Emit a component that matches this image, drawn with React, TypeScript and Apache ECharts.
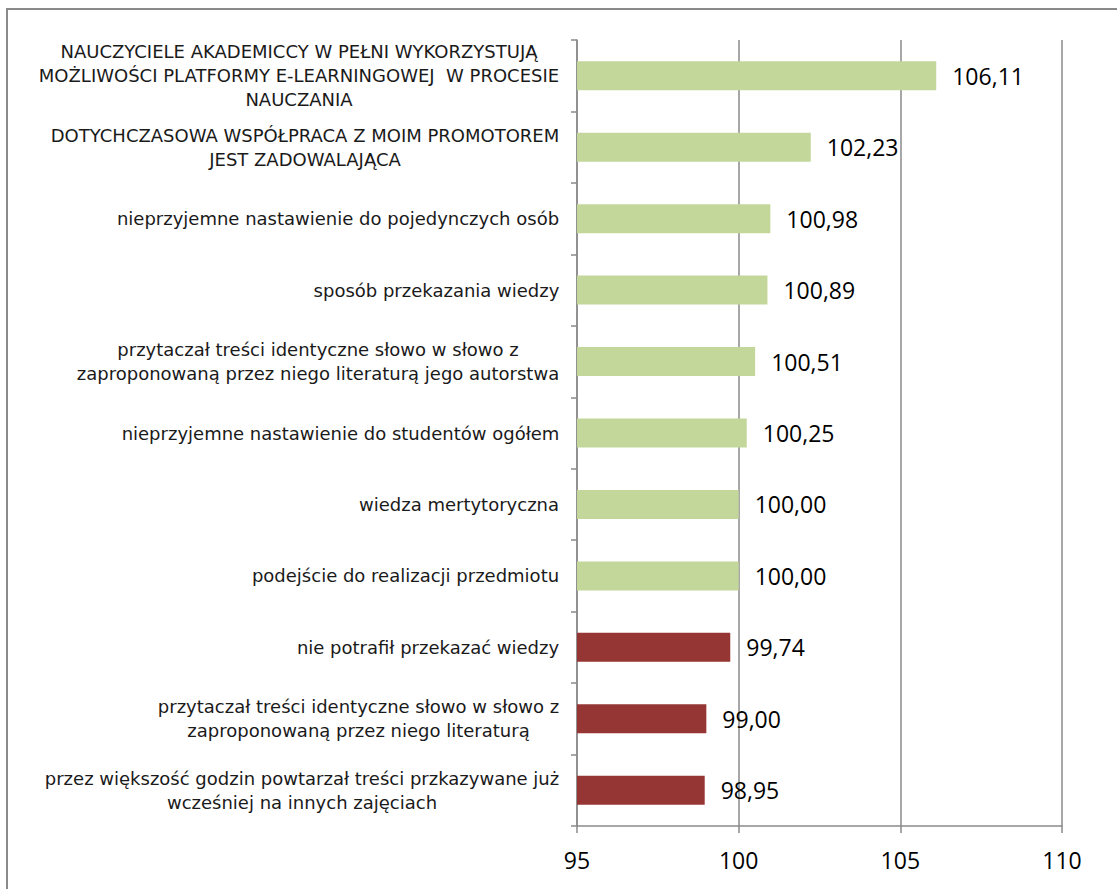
import React, { useEffect, useRef } from "react";
import * as echarts from "echarts";

const categories: string[] = [
  "NAUCZYCIELE AKADEMICCY W PEŁNI WYKORZYSTUJĄ\nMOŻLIWOŚCI PLATFORMY E-LEARNINGOWEJ  W PROCESIE\nNAUCZANIA",
  "DOTYCHCZASOWA WSPÓŁPRACA Z MOIM PROMOTOREM\nJEST ZADOWALAJĄCA",
  "nieprzyjemne nastawienie do pojedynczych osób",
  "sposób przekazania wiedzy",
  "przytaczał treści identyczne słowo w słowo z\nzaproponowaną przez niego literaturą jego autorstwa",
  "nieprzyjemne nastawienie do studentów ogółem",
  "wiedza mertytoryczna",
  "podejście do realizacji przedmiotu",
  "nie potrafił przekazać wiedzy",
  "przytaczał treści identyczne słowo w słowo z\nzaproponowaną przez niego literaturą",
  "przez większość godzin powtarzał treści przkazywane już\nwcześniej na innych zajęciach",
];

const values: number[] = [106.11, 102.23, 100.98, 100.89, 100.51, 100.25, 100.0, 100.0, 99.74, 99.0, 98.95];

const xMin = 95;
const xMax = 110;
const xInterval = 5;

const GREEN = "#C4D79B";
const RED = "#963634";
const CAT_FONT = "DejaVu Sans";
const CAT_SIZE = 18;
const NUM_FONT = "Open Sans";

export default function App() {
  const ref = useRef<HTMLDivElement>(null);

  useEffect(() => {
    if (!ref.current) return;
    const chart = echarts.init(ref.current, undefined, { renderer: "svg" });

    const canvas = document.createElement("canvas");
    const ctx = canvas.getContext("2d")!;
    ctx.font = `${CAT_SIZE}px "${CAT_FONT}"`;
    const rich: Record<string, any> = {};
    categories.forEach((c, i) => {
      const w = Math.max(...c.split("\n").map((l) => ctx.measureText(l).width));
      rich["c" + i] = {
        width: Math.ceil(w) + 1,
        align: "center",
        fontFamily: CAT_FONT,
        fontSize: CAT_SIZE,
        color: "#1a1a1a",
        lineHeight: 24,
      };
    });

    chart.setOption({
      animation: false,
      grid: { left: 577, top: 40, right: 55, bottom: 63, containLabel: false },
      graphic: [
        {
          type: "rect",
          shape: { x: 7, y: 9, width: 1130, height: 900 },
          style: { fill: "none", stroke: "#8a8a8a", lineWidth: 2 },
          silent: true,
        },
      ],
      xAxis: {
        type: "value",
        min: xMin,
        max: xMax,
        interval: xInterval,
        axisLine: { show: true, lineStyle: { color: "#8a8a8a", width: 1.5 } },
        axisTick: { show: true, length: 7, lineStyle: { color: "#8a8a8a", width: 1.5 } },
        splitLine: { show: true, lineStyle: { color: "#8a8a8a", width: 1.5 } },
        axisLabel: {
          margin: 22,
          fontFamily: NUM_FONT,
          fontSize: 23,
          color: "#000",
        },
      },
      yAxis: {
        type: "category",
        inverse: true,
        data: categories,
        axisLine: { show: true, lineStyle: { color: "#8a8a8a", width: 1.5 } },
        axisTick: { show: true, length: 6, alignWithLabel: false, lineStyle: { color: "#8a8a8a", width: 1.5 } },
        splitLine: { show: false },
        axisLabel: {
          margin: 17,
          align: "right",
          formatter: (val: string, idx: number) =>
            val
              .split("\n")
              .map((l) => `{c${idx}|${l}}`)
              .join("\n"),
          rich,
        },
      },
      series: [
        {
          type: "bar",
          barWidth: 29,
          data: values.map((v) => ({
            value: v,
            itemStyle: { color: v >= 100 ? GREEN : RED },
          })),
          label: {
            show: true,
            position: "right",
            distance: 16,
            fontFamily: NUM_FONT,
            fontSize: 23,
            color: "#000",
            formatter: (p: any) => Number(p.value).toFixed(2).replace(".", ","),
          },
        },
      ],
    });

    return () => chart.dispose();
  }, []);

  return (
    <div
      ref={ref}
      style={{ position: "absolute", left: 0, top: 0, width: 1117, height: 889, background: "#fff" }}
    />
  );
}
